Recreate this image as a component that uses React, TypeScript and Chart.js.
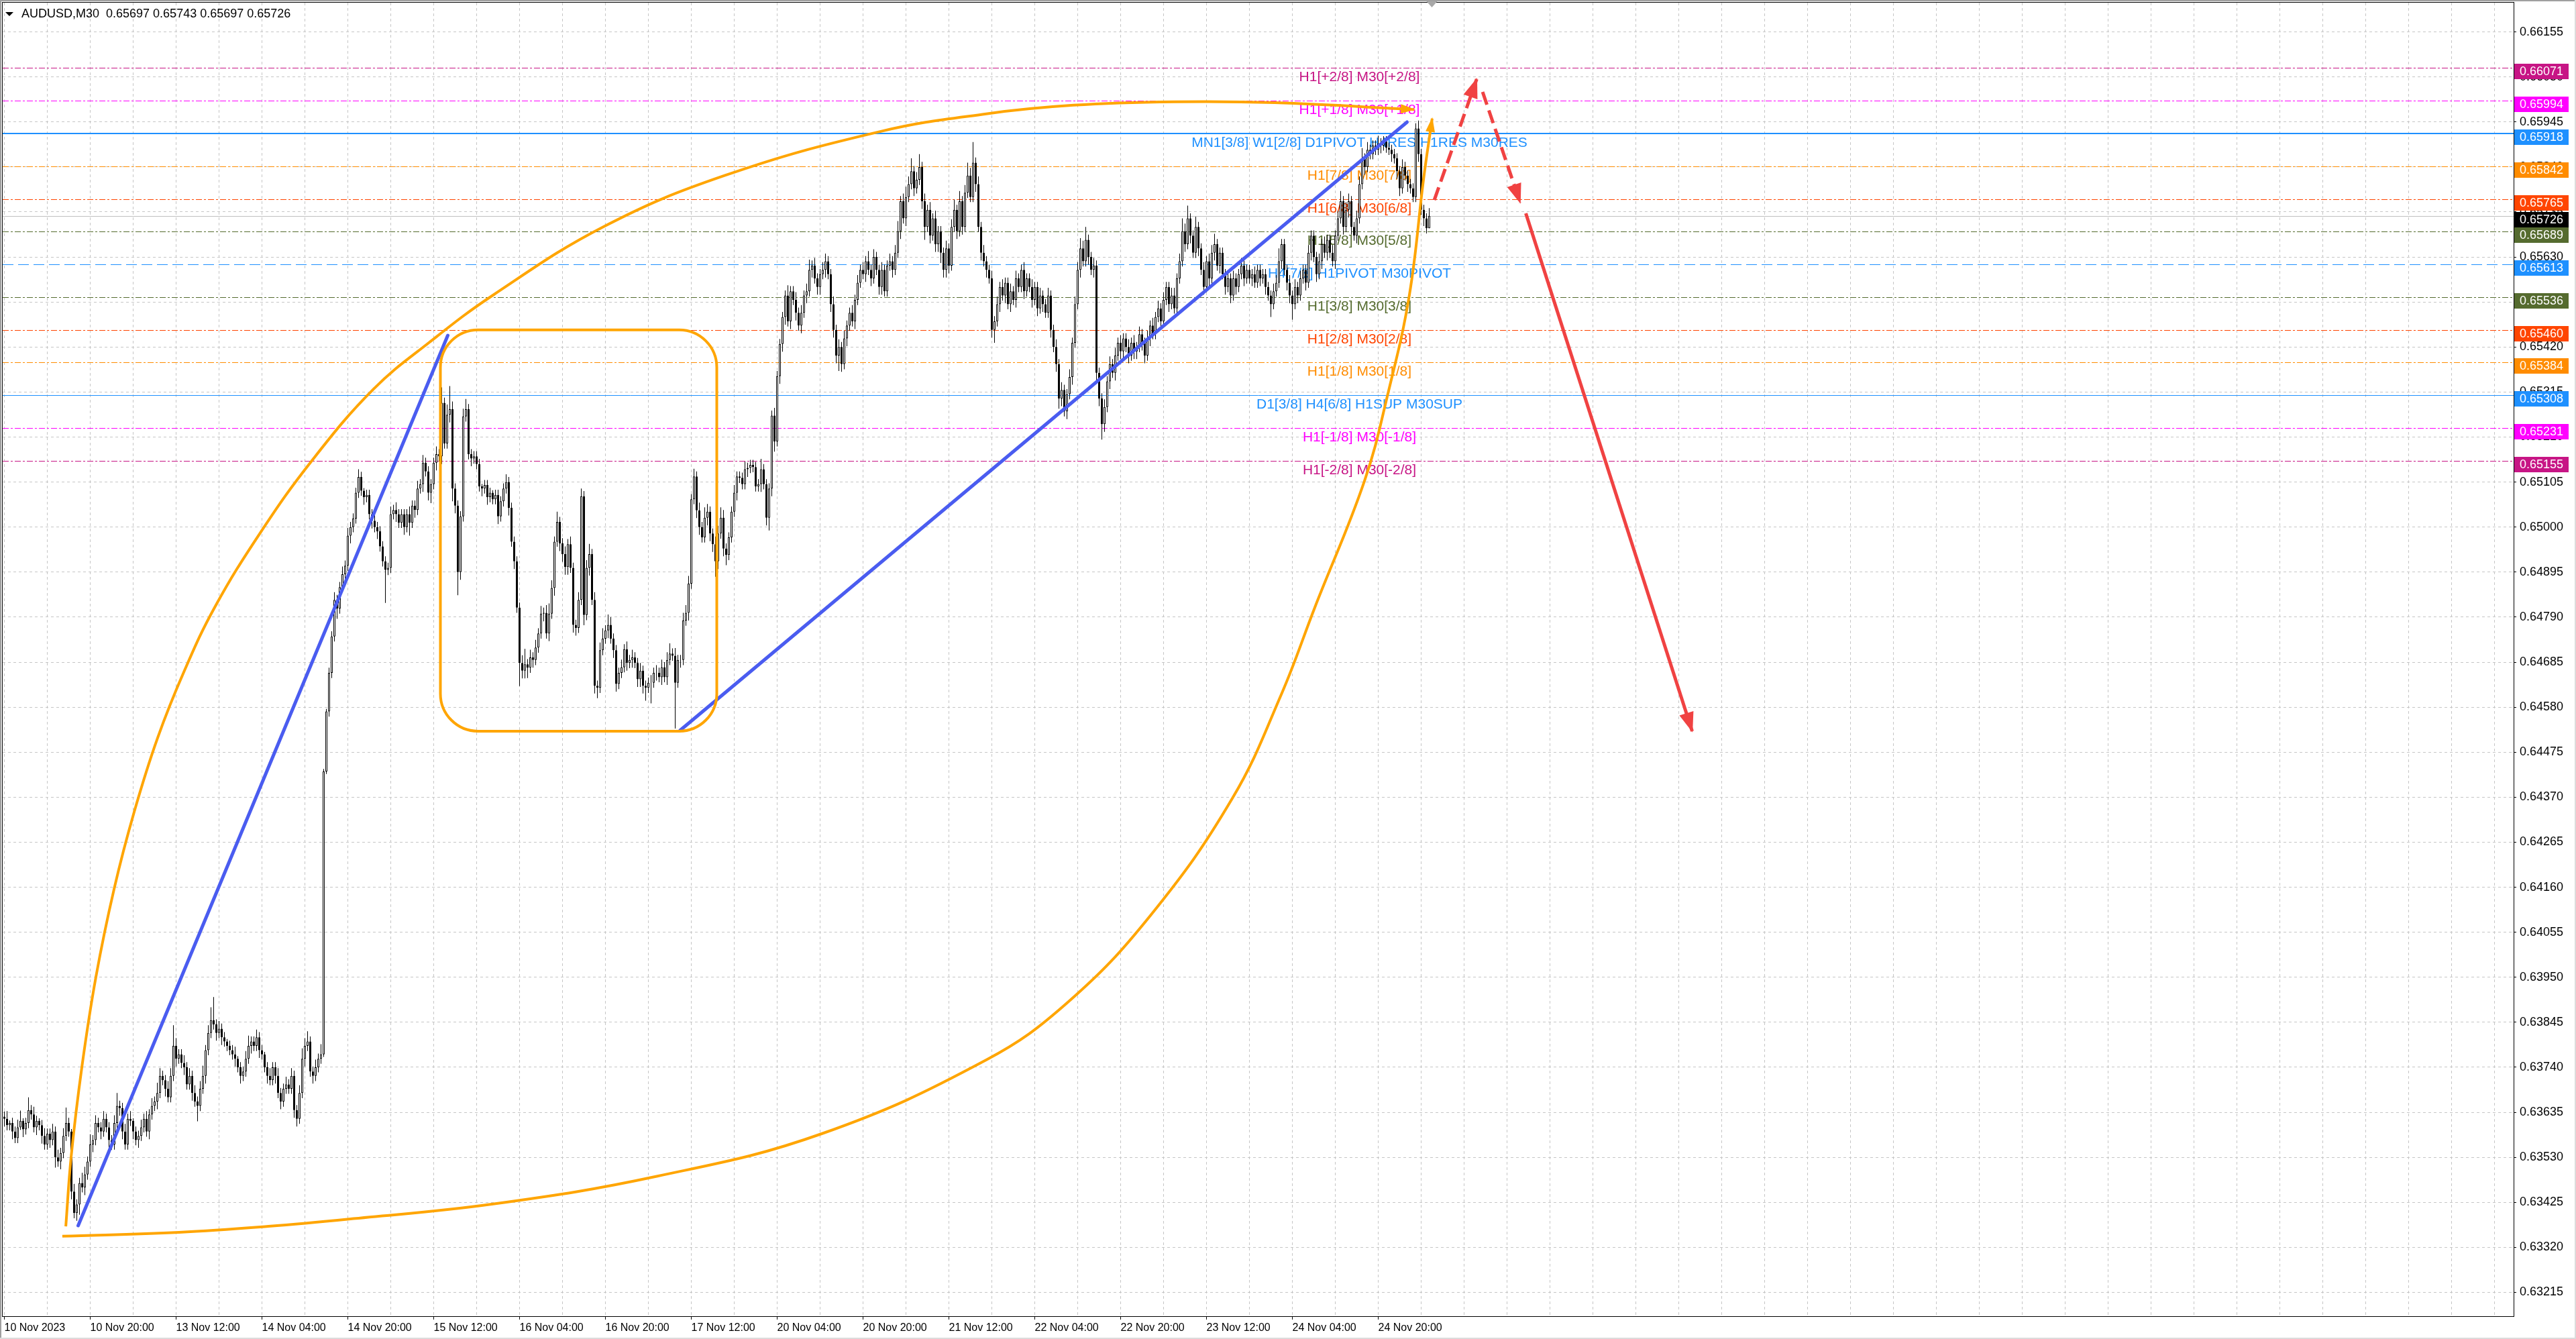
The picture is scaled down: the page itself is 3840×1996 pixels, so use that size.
import React, { useEffect, useRef } from "react";
import { Chart, registerables } from "chart.js";

Chart.register(...registerables);

// ---------------- data ----------------
const symbolTitle = "AUDUSD,M30  0.65697 0.65743 0.65697 0.65726";

// M30 candles: closes in points above 0.60000 (1 point = 0.00001)
const firstOpen = 3625;
const closes = [
  3620, 3605, 3610, 3590, 3575, 3600, 3615, 3595, 3610, 3640,
  3630, 3600, 3615, 3605, 3580, 3560, 3585, 3570, 3590, 3530,
  3520, 3540, 3580, 3610, 3590, 3450, 3400, 3420, 3470, 3460,
  3490, 3520, 3560, 3570, 3610, 3600, 3590, 3620, 3600, 3570,
  3560, 3610, 3650, 3645, 3590, 3560, 3620, 3615, 3590, 3570,
  3580, 3600, 3620, 3590, 3630, 3650, 3660, 3680, 3720, 3710,
  3690, 3670, 3720, 3790, 3760, 3770, 3750, 3740, 3700, 3720,
  3680, 3660, 3650, 3690, 3720, 3780, 3820, 3850, 3840, 3820,
  3830, 3810, 3800, 3790, 3780, 3770, 3760, 3740, 3720, 3730,
  3760, 3790, 3800, 3790, 3810, 3780, 3770, 3740, 3720, 3710,
  3740, 3720, 3680, 3660, 3690, 3700, 3690, 3720, 3640, 3620,
  3680, 3760, 3790, 3800, 3730, 3720, 3740, 3760, 3770, 4430,
  4570, 4660, 4745, 4830, 4810, 4860, 4890, 4910, 4980, 5000,
  5020, 5080, 5117, 5085, 5070, 5075, 5030, 5015, 5000, 4990,
  4955, 4920, 4900, 4905, 5030, 5040, 5030, 5010, 5030, 5000,
  5030, 5010, 5050, 5040, 5090, 5100, 5150, 5130, 5080, 5100,
  5150, 5170, 5165, 5290, 5195, 5262, 5275, 5090, 5050, 4895,
  5025, 5258, 5275, 5170, 5160, 5165, 5147, 5095, 5090, 5098,
  5070, 5080, 5065, 5075, 5025, 5060, 5090, 5105, 5045, 4966,
  4920, 4812, 4683, 4665, 4680, 4672, 4696, 4690, 4719, 4752,
  4798, 4800, 4752, 4798, 4858, 4966, 5012, 4962, 4937, 4907,
  4960, 4905, 4772, 4765, 4830, 5072, 4795, 4905, 4937, 4830,
  4630, 4625, 4713, 4740, 4759, 4772, 4740, 4713, 4634, 4660,
  4673, 4715, 4683, 4690, 4696, 4683, 4645, 4665, 4630, 4625,
  4637, 4637, 4660, 4660, 4650, 4673, 4650, 4690, 4705, 4700,
  4637, 4690, 4690, 4782, 4800, 4868, 5065, 5118, 5039, 5000,
  4976, 5022, 5036, 4985, 4960, 4920, 4985, 5022, 4950, 4935,
  4976, 5036, 5080, 5118, 5115, 5100, 5135, 5138, 5145, 5140,
  5095, 5100, 5135, 5100, 5022, 5090, 5260, 5200, 5352, 5427,
  5490, 5540, 5480, 5550, 5530, 5500, 5470, 5500, 5540, 5550,
  5600, 5610, 5580, 5560, 5590, 5600, 5620, 5590, 5520, 5460,
  5400, 5420, 5380, 5440, 5470, 5500, 5480, 5530, 5570, 5600,
  5590, 5620, 5600, 5580, 5630, 5600, 5560, 5600, 5550, 5610,
  5620, 5600, 5640, 5690, 5760, 5720, 5770, 5800, 5830, 5790,
  5810, 5840, 5760, 5700, 5740, 5680, 5720, 5660, 5690, 5640,
  5600, 5650, 5610, 5700, 5740, 5690, 5760, 5700, 5780, 5820,
  5770, 5850, 5800, 5700, 5640, 5620, 5600, 5580, 5460, 5480,
  5520, 5560, 5540, 5570, 5520, 5550, 5530, 5580, 5560, 5600,
  5550, 5580, 5560, 5530, 5560, 5510, 5540, 5520, 5500, 5540,
  5460, 5420, 5380, 5300, 5320, 5270, 5310, 5350, 5430, 5520,
  5600, 5650, 5620, 5670, 5630, 5600, 5610, 5360, 5300, 5240,
  5280, 5340, 5380, 5360, 5400, 5430, 5410, 5440, 5420, 5400,
  5430, 5410, 5420, 5450, 5430, 5400, 5440, 5470, 5450, 5490,
  5510, 5480, 5530, 5560, 5520, 5540, 5510, 5580, 5620, 5690,
  5660, 5720, 5680, 5640, 5700, 5650, 5600, 5560, 5620, 5580,
  5640, 5660, 5610, 5640, 5590, 5560, 5580, 5540, 5580, 5560,
  5590, 5610, 5580, 5600, 5580, 5590, 5570, 5600, 5580, 5590,
  5560, 5540, 5520, 5550, 5570, 5620, 5660, 5600, 5570, 5540,
  5520, 5560, 5540, 5580, 5600, 5570, 5640, 5680, 5630, 5590,
  5620, 5660, 5640, 5670, 5640, 5620, 5680, 5720, 5760, 5700,
  5740, 5760, 5700, 5680, 5720, 5800, 5860, 5840, 5880, 5870,
  5890, 5880, 5895, 5890, 5900, 5885, 5880, 5870, 5860, 5830,
  5790, 5840, 5820, 5800, 5790, 5770, 5930, 5870, 5740, 5720,
  5697, 5726,
];
// wick lengths per candle, one digit per bar, in units of wickUnit points
const wickUp =
  "2312234125" + "2321232232" + "3236213224" + "3242322322" + "2352232312" +
  "2323232432" + "2338322323" + "2323423592" + "3221223122" + "3422322123" +
  "2232232322" + "3434223241" + "1223223232" + "2232122232" + "2222323222" +
  "2322323222" + "2326249322" + "2342222212" + "2212222322" + "2223623232" +
  "3234324223" + "2322332342" + "3234243222" + "3232322322" + "2323232342" +
  "3223332323" + "2432233432" + "2232223222" + "2242222322" + "2242232323" +
  "4232233223" + "2323223232" + "3242322322" + "3234234352" + "3523232322" +
  "2323424235" + "3823232232" + "3232232322" + "3223223223" + "2232322323" +
  "3435223222" + "3232323223" + "2323223232" + "3232233235" + "3522422323" +
  "3422223232" + "2322223222" + "2223352223" + "2323223222" + "3232232342" +
  "3322334232" + "2232222222" + "2322222322" + "23";
const wickDown =
  "3223221322" + "2232322324" + "2322232342" + "3223223223" + "2223322232" +
  "3222322322" + "3222322322" + "3262232223" + "2322223232" + "2232232232" +
  "2323222233" + "2232232221" + "1222422223" + "2222322323" + "2292223223" +
  "2523223234" + "2323223539" + "3222322232" + "3222322232" + "3293342322" +
  "2323232333" + "3233224232" + "3422232332" + "2232323335" + "2823232322" +
  "9232232233" + "2233363234" + "2223222322" + "2232353423" + "3323232323" +
  "2323323233" + "3632322322" + "2323223322" + "2322323223" + "2235232334" +
  "3332232322" + "2232323235" + "2323232322" + "3223232322" + "3234323232" +
  "2322323436" + "3232323323" + "2332332322" + "2322322322" + "3232232323" +
  "2323232323" + "2232232232" + "3252223233" + "6232232323" + "2323223223" +
  "2332322322" + "2223222323" + "3223222323" + "20";
const wickUnit = 6;
const longLowBars = [142, 250];
const longLowPrices = [0.64823, 0.6453];

const timeLabels = [
  "10 Nov 2023", "10 Nov 20:00", "13 Nov 12:00", "14 Nov 04:00", "14 Nov 20:00",
  "15 Nov 12:00", "16 Nov 04:00", "16 Nov 20:00", "17 Nov 12:00", "20 Nov 04:00",
  "20 Nov 20:00", "21 Nov 12:00", "22 Nov 04:00", "22 Nov 20:00", "23 Nov 12:00",
  "24 Nov 04:00", "24 Nov 20:00",
];
const barsPerLabel = 32;
const barsPerGrid = 16;

const priceTicks = [
  0.66155, 0.6605, 0.65945, 0.6584, 0.65735, 0.6563, 0.65525, 0.6542, 0.65315,
  0.6521, 0.65105, 0.65, 0.64895, 0.6479, 0.64685, 0.6458, 0.64475, 0.6437,
  0.64265, 0.6416, 0.64055, 0.6395, 0.63845, 0.6374, 0.63635, 0.6353, 0.63425,
  0.6332, 0.63215,
];

const levelPrices = [
  0.66071, 0.65994, 0.65918, 0.65842, 0.65765, 0.65689, 0.65613, 0.65536,
  0.6546, 0.65384, 0.65308, 0.65231, 0.65155,
];
const levelNames = [
  "H1[+2/8] M30[+2/8]",
  "H1[+1/8] M30[+1/8]",
  "MN1[3/8] W1[2/8] D1PIVOT H4RES H1RES M30RES",
  "H1[7/8] M30[7/8]",
  "H1[6/8] M30[6/8]",
  "H1[5/8] M30[5/8]",
  "H4[7/8] H1PIVOT M30PIVOT",
  "H1[3/8] M30[3/8]",
  "H1[2/8] M30[2/8]",
  "H1[1/8] M30[1/8]",
  "D1[3/8] H4[6/8] H1SUP M30SUP",
  "H1[-1/8] M30[-1/8]",
  "H1[-2/8] M30[-2/8]",
];
const levelColors = [
  "#C71585", "#FF00FF", "#1E90FF", "#FF8C00", "#FF4500", "#556B2F", "#1E90FF",
  "#556B2F", "#FF4500", "#FF8C00", "#1E90FF", "#FF00FF", "#C71585",
];
const levelStyles = [
  "dashdot", "dashdot", "thick", "dashdot", "dashdot", "dashdot", "dash",
  "dashdot", "dashdot", "dashdot", "solid", "dashdot", "dashdot",
];
const bidPrice = 0.65726;
const levelLabelBar = 505;

// drawn objects (bar index, price)
const upperArcX = [22.9, 24.9, 28.9, 34.1, 40.9, 48.4, 57.1, 67.1, 78.4, 95.4, 114.6, 137.6, 158.4, 182.1, 223.4, 268.4, 326.6, 365.9, 398.4, 435.9, 473.4, 525.4];
const upperArcY = [0.63369, 0.63532, 0.63741, 0.6395, 0.64156, 0.64336, 0.64508, 0.64665, 0.64813, 0.64987, 0.65155, 0.65322, 0.65431, 0.65541, 0.65701, 0.6582, 0.65923, 0.65964, 0.65984, 0.65992, 0.6599, 0.65974];
const lowerArcX = [21.6, 65.1, 98.4, 128.4, 182.1, 243.4, 304.6, 365.9, 396.4, 427.1, 457.6, 475.9, 488.4, 506.9, 515.6, 523.6, 528.9, 532.1];
const lowerArcY = [0.63346, 0.63355, 0.63369, 0.63386, 0.63421, 0.63486, 0.63585, 0.63757, 0.63892, 0.64094, 0.64367, 0.6461, 0.64813, 0.65108, 0.65311, 0.65541, 0.65812, 0.65953];
const trend1X = [27.5, 165.25];
const trend1Y = [0.633706, 0.65447];
const trend2X = [251.75, 522.75];
const trend2Y = [0.645254, 0.659447];
const redUpX = [532.9, 548.7];
const redUpY = [0.65763, 0.66045];
const redDownX = [550.9, 564.9];
const redDownY = [0.66015, 0.65757];
const redFallX = [567, 629];
const redFallY = [0.65732, 0.64524];
const boxBars = [162.5, 265.5];
const boxPrices = [0.6546, 0.64524];

// ---------------- layout ----------------
const W = 3840;
const H = 1996;
const X_MIN = -0.625;
const X_MAX = 935.125;
const Y_MIN = 0.631594;
const Y_MAX = 0.662232;
const ORANGE = "#FFA500";
const BLUE = "#4A5CF0";
const RED = "#F04242";
const AXIS_FONT = "'Liberation Sans', Arial, sans-serif";

const toPrice = (pts: number) => 0.6 + pts / 100000;

function buildCandles() {
  const ups = wickUp.split("").map(Number);
  const dns = wickDown.split("").map(Number);
  const bodies: any[] = [];
  const wicks: any[] = [];
  const fills: string[] = [];
  for (let i = 0; i < closes.length; i++) {
    const o = i === 0 ? firstOpen : closes[i - 1];
    const c = closes[i];
    const hi = Math.max(o, c) + (ups[i] || 0) * wickUnit;
    let lo = toPrice(Math.min(o, c) - (dns[i] || 0) * wickUnit);
    const k = longLowBars.indexOf(i);
    if (k >= 0) lo = longLowPrices[k];
    bodies.push({ x: i, y: [toPrice(o), toPrice(c)] });
    wicks.push({ x: i, y: [lo, toPrice(hi)] });
    fills.push(c >= o ? "#FFFFFF" : "#000000");
  }
  return { bodies, wicks, fills };
}

function lineSet(xs: number[], ys: number[], color: string, width: number, dash: number[], curve: boolean, arrow: any, order: number, cap: string) {
  return {
    type: "line",
    data: xs.map((x, i) => ({ x, y: ys[i] })),
    borderColor: color,
    backgroundColor: color,
    borderWidth: width,
    borderDash: dash,
    borderCapStyle: cap,
    borderJoinStyle: "round",
    pointRadius: 0,
    pointHoverRadius: 0,
    fill: false,
    tension: curve ? 0.4 : 0,
    cubicInterpolationMode: "default",
    order,
    arrowHead: arrow,
  };
}

const overlayPlugin = {
  id: "mtOverlay",
  beforeDraw(chart: any) {
    const { ctx } = chart;
    ctx.save();
    ctx.fillStyle = "#FFFFFF";
    ctx.fillRect(0, 0, chart.width, chart.height);
    ctx.restore();
  },
  beforeDatasetsDraw(chart: any) {
    const { ctx, chartArea } = chart;
    const xs = chart.scales.x;
    const ys = chart.scales.y;
    ctx.save();
    ctx.beginPath();
    ctx.rect(chartArea.left, chartArea.top, chartArea.right - chartArea.left, chartArea.bottom - chartArea.top);
    ctx.clip();
    const by = Math.round(ys.getPixelForValue(bidPrice)) + 0.5;
    ctx.strokeStyle = "#C0C0C0";
    ctx.lineWidth = 1;
    ctx.setLineDash([]);
    ctx.beginPath();
    ctx.moveTo(chartArea.left, by);
    ctx.lineTo(chartArea.right, by);
    ctx.stroke();
    levelPrices.forEach((p, k) => {
      const st = levelStyles[k];
      const w = st === "thick" ? 2 : 1;
      const y = Math.round(ys.getPixelForValue(p)) + (w === 1 ? 0.5 : 0);
      ctx.lineWidth = w;
      ctx.strokeStyle = levelColors[k];
      ctx.setLineDash(st === "dashdot" ? [9, 3, 3, 3] : st === "dash" ? [16, 7] : []);
      ctx.beginPath();
      ctx.moveTo(chartArea.left, y);
      ctx.lineTo(chartArea.right, y);
      ctx.stroke();
    });
    ctx.setLineDash([]);
    ctx.font = "21px " + AXIS_FONT;
    ctx.textAlign = "center";
    ctx.textBaseline = "alphabetic";
    const lx = xs.getPixelForValue(levelLabelBar);
    levelPrices.forEach((p, k) => {
      const y = Math.round(ys.getPixelForValue(p));
      ctx.fillStyle = levelColors[k];
      ctx.fillText(levelNames[k], lx, y + 20);
    });
    ctx.restore();
  },
  afterDatasetsDraw(chart: any) {
    const { ctx, chartArea } = chart;
    const xs = chart.scales.x;
    const ys = chart.scales.y;
    ctx.save();
    ctx.beginPath();
    ctx.rect(chartArea.left, chartArea.top, chartArea.right - chartArea.left, chartArea.bottom - chartArea.top);
    ctx.clip();
    const x0 = xs.getPixelForValue(boxBars[0]);
    const x1 = xs.getPixelForValue(boxBars[1]);
    const y0 = ys.getPixelForValue(boxPrices[0]);
    const y1 = ys.getPixelForValue(boxPrices[1]);
    ctx.strokeStyle = ORANGE;
    ctx.lineWidth = 4;
    ctx.setLineDash([]);
    ctx.beginPath();
    if (ctx.roundRect) ctx.roundRect(x0, y0, x1 - x0, y1 - y0, 56);
    else ctx.rect(x0, y0, x1 - x0, y1 - y0);
    ctx.stroke();
    chart.data.datasets.forEach((ds: any, di: number) => {
      if (!ds.arrowHead) return;
      const meta = chart.getDatasetMeta(di);
      const pts = meta.data;
      if (pts.length < 2) return;
      const b = pts[pts.length - 1];
      const a = pts[pts.length - 2];
      let dx = b.x - a.x;
      let dy = b.y - a.y;
      if (b.cp1x !== undefined && Math.hypot(b.x - b.cp1x, b.y - b.cp1y) > 1) {
        dx = b.x - b.cp1x;
        dy = b.y - b.cp1y;
      }
      const len = Math.hypot(dx, dy) || 1;
      const ux = dx / len;
      const uy = dy / len;
      const L = ds.arrowHead.length;
      const hw = ds.arrowHead.width / 2;
      const bx = b.x - ux * L;
      const byy = b.y - uy * L;
      ctx.fillStyle = ds.borderColor;
      ctx.beginPath();
      ctx.moveTo(b.x + ux * 2, b.y + uy * 2);
      ctx.lineTo(bx - uy * hw, byy + ux * hw);
      ctx.lineTo(bx + uy * hw, byy - ux * hw);
      ctx.closePath();
      ctx.fill();
    });
    ctx.restore();
  },
  afterDraw(chart: any) {
    const { ctx, chartArea } = chart;
    const xs = chart.scales.x;
    const ys = chart.scales.y;
    ctx.save();
    ctx.strokeStyle = "#000000";
    ctx.lineWidth = 1;
    ctx.setLineDash([]);
    ctx.strokeRect(chartArea.left - 0.5, chartArea.top - 0.5, chartArea.right - chartArea.left + 1, chartArea.bottom - chartArea.top + 1);
    ctx.fillStyle = "#A0A0A0";
    ctx.fillRect(0, 0, W, 2);
    ctx.fillRect(0, 0, 2, H);
    ctx.fillStyle = "#DCDCDC";
    ctx.fillRect(W - 2, 0, 2, H);
    ctx.fillRect(0, H - 2, W, 2);
    ctx.font = "18px " + AXIS_FONT;
    ctx.textAlign = "left";
    ctx.textBaseline = "middle";
    const drawBox = (p: number, color: string) => {
      const y = Math.round(ys.getPixelForValue(p));
      ctx.fillStyle = color;
      ctx.fillRect(chartArea.right + 1, y - 6, 81, 23);
      ctx.fillStyle = "#FFFFFF";
      ctx.fillText(p.toFixed(5), chartArea.right + 9, y + 6);
    };
    levelPrices.forEach((p, k) => drawBox(p, levelColors[k]));
    drawBox(bidPrice, "#000000");
    ctx.fillStyle = "#000000";
    ctx.beginPath();
    ctx.moveTo(8, 18);
    ctx.lineTo(20, 18);
    ctx.lineTo(14, 24);
    ctx.closePath();
    ctx.fill();
    ctx.font = "18px " + AXIS_FONT;
    ctx.textBaseline = "alphabetic";
    ctx.fillText(symbolTitle, 32, 26);
    const mx = xs.getPixelForValue(closes.length);
    ctx.fillStyle = "#A8A8A8";
    ctx.beginPath();
    ctx.moveTo(mx - 8, 2);
    ctx.lineTo(mx + 8, 2);
    ctx.lineTo(mx, 11);
    ctx.closePath();
    ctx.fill();
    ctx.restore();
  },
};

export default function App() {
  const ref = useRef<HTMLCanvasElement>(null);
  useEffect(() => {
    const canvas = ref.current;
    if (!canvas) return;
    const { bodies, wicks, fills } = buildCandles();
    const datasets: any[] = [
      lineSet(redUpX, redUpY, RED, 5, [20, 9], false, { length: 28, width: 22 }, 1, "butt"),
      lineSet(redDownX, redDownY, RED, 5, [20, 9], false, { length: 28, width: 22 }, 1, "butt"),
      lineSet(redFallX, redFallY, RED, 5, [], false, { length: 28, width: 22 }, 1, "butt"),
      lineSet(trend1X, trend1Y, BLUE, 5, [], false, null, 2, "round"),
      lineSet(trend2X, trend2Y, BLUE, 5, [], false, null, 2, "round"),
      lineSet(upperArcX, upperArcY, ORANGE, 4, [], true, { length: 20, width: 14 }, 3, "butt"),
      lineSet(lowerArcX, lowerArcY, ORANGE, 4, [], true, { length: 20, width: 14 }, 3, "butt"),
      {
        type: "bar",
        data: bodies,
        backgroundColor: fills,
        borderColor: "#000000",
        borderWidth: 1,
        borderSkipped: false,
        barThickness: 3,
        grouped: false,
        inflateAmount: 0,
        order: 5,
      },
      {
        type: "bar",
        data: wicks,
        backgroundColor: "#000000",
        borderWidth: 0,
        barThickness: 1,
        grouped: false,
        inflateAmount: 0,
        order: 6,
      },
    ];
    const isLabelTick = (v: number) => v % barsPerLabel === 0 && v / barsPerLabel < timeLabels.length && v >= 0;
    const chart = new Chart(canvas, {
      type: "bar",
      data: { datasets },
      options: {
        animation: false,
        responsive: false,
        devicePixelRatio: 1,
        events: [],
        layout: { padding: { left: 4, top: 4, right: 0, bottom: 0 } },
        plugins: { legend: { display: false }, tooltip: { enabled: false }, title: { display: false } },
        scales: {
          x: {
            type: "linear",
            min: X_MIN,
            max: X_MAX,
            offset: false,
            afterBuildTicks: (s: any) => {
              const t: any[] = [];
              for (let v = 0; v <= X_MAX; v += barsPerGrid) t.push({ value: v });
              s.ticks = t;
            },
            afterFit: (s: any) => {
              s.height = 34;
              s.paddingLeft = 0;
              s.paddingRight = 0;
            },
            grid: {
              offset: false,
              color: "#C6C6C6",
              lineWidth: 1,
              drawTicks: true,
              tickLength: 5,
              tickWidth: 1,
              tickColor: (c: any) => (c.tick && isLabelTick(c.tick.value) ? "#000000" : "rgba(0,0,0,0)"),
            },
            border: { display: false, dash: [4, 4] },
            ticks: {
              autoSkip: false,
              maxRotation: 0,
              minRotation: 0,
              align: "start",
              padding: 3,
              color: "#000000",
              font: { family: AXIS_FONT, size: 16 },
              callback: (v: any) => (isLabelTick(Number(v)) ? timeLabels[Number(v) / barsPerLabel] : ""),
            },
          },
          y: {
            type: "linear",
            position: "right",
            min: Y_MIN,
            max: Y_MAX,
            afterBuildTicks: (s: any) => {
              s.ticks = priceTicks.map((v) => ({ value: v }));
            },
            afterFit: (s: any) => {
              s.width = 93;
              s.paddingTop = 0;
              s.paddingBottom = 0;
            },
            grid: {
              color: "#C6C6C6",
              lineWidth: 1,
              drawTicks: true,
              tickLength: 4,
              tickWidth: 1,
              tickColor: "#000000",
            },
            border: { display: false, dash: [4, 4] },
            ticks: {
              padding: 5,
              color: "#000000",
              font: { family: AXIS_FONT, size: 18 },
              callback: (v: any) => Number(v).toFixed(5),
            },
          },
        },
      } as any,
      plugins: [overlayPlugin as any],
    } as any);
    return () => chart.destroy();
  }, []);
  return (
    <div style={{ position: "fixed", left: 0, top: 0, width: W, height: H, background: "#FFFFFF" }}>
      <canvas ref={ref} width={W} height={H} style={{ display: "block", width: W, height: H }} />
    </div>
  );
}
